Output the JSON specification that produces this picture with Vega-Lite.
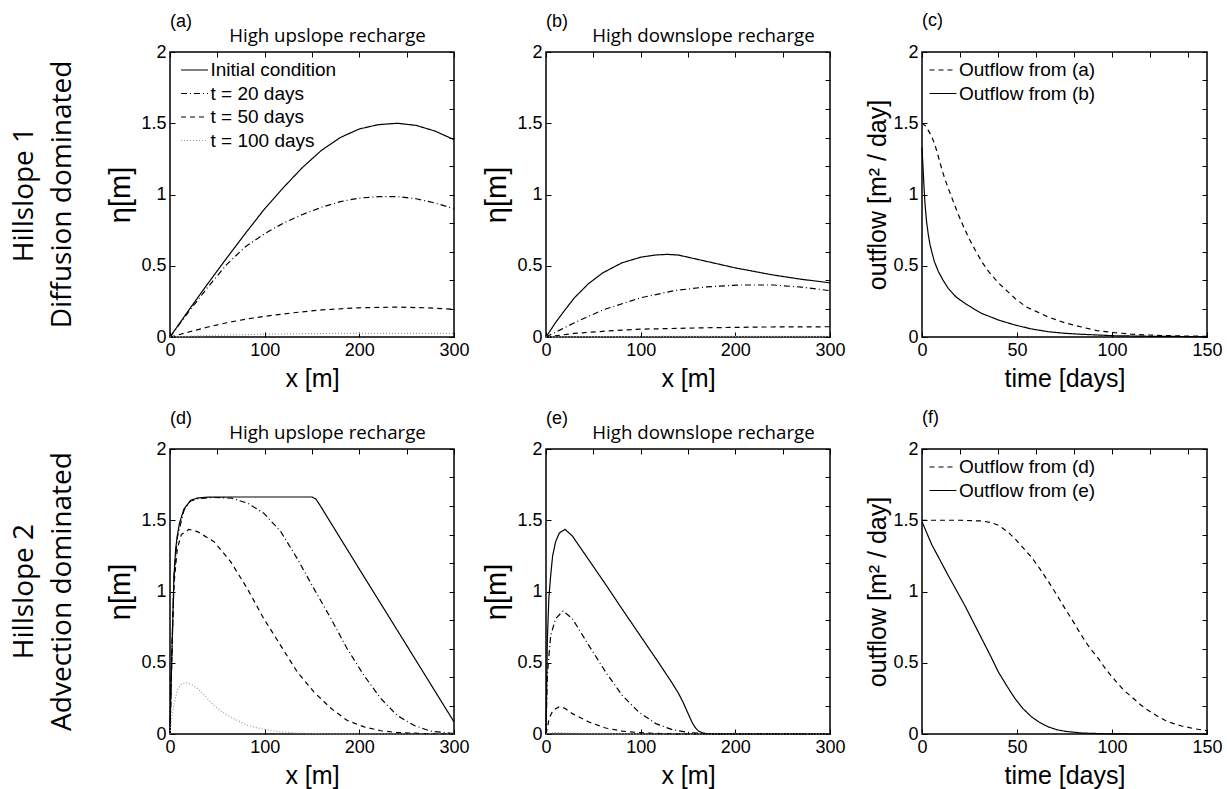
{
  "$schema": "https://vega.github.io/schema/vega-lite/v6.json",
  "background": "white",
  "padding": {"left": 5, "top": 11, "right": 6, "bottom": 4},
  "columns": 4,
  "spacing": {"row": 112, "column": 92},
  "bounds": "flush",
  "resolve": {
    "scale": {"x": "independent", "y": "independent", "color": "independent", "strokeDash": "independent"},
    "axis": {"x": "independent", "y": "independent"},
    "legend": {"color": "independent", "strokeDash": "independent"}
  },
  "config": {
    "font": "Liberation Sans",
    "view": {"stroke": "black", "strokeWidth": 1.5},
    "axis": {
      "domain": false, "grid": false, "ticks": true, "tickSize": -5, "tickColor": "black", "tickWidth": 1,
      "labelFont": "Liberation Sans", "labelFontSize": 18, "labelColor": "black", "labelPadding": 9, "labelFlush": false,
      "titleFont": "Liberation Sans", "titleFontSize": 25, "titleFontWeight": "normal", "titleColor": "black"
    },
    "axisX": {"titlePadding": 7},
    "axisY": {"titlePadding": 5},
    "title": {"font": "Liberation Sans", "fontSize": 18, "fontWeight": "normal", "anchor": "start", "frame": "group", "color": "black", "offset": -4},
    "legend": {
      "orient": "top-left", "offset": 0, "padding": 7,
      "labelFont": "Liberation Sans", "labelFontSize": 19, "labelColor": "black",
      "symbolType": "M-1.35,0L1.35,0", "symbolSize": 400, "symbolStrokeWidth": 1.2, "symbolOffset": 6.5, "labelOffset": 5, "rowPadding": 2.5
    }
  },
  "datasets": {
    "a": [
      {"s":"Initial condition","x":0,"y":0},{"s":"Initial condition","x":20,"y":0.19},{"s":"Initial condition","x":40,"y":0.375},{"s":"Initial condition","x":60,"y":0.555},{"s":"Initial condition","x":80,"y":0.73},{"s":"Initial condition","x":100,"y":0.9},{"s":"Initial condition","x":120,"y":1.05},{"s":"Initial condition","x":140,"y":1.19},{"s":"Initial condition","x":160,"y":1.31},{"s":"Initial condition","x":180,"y":1.4},{"s":"Initial condition","x":200,"y":1.46},{"s":"Initial condition","x":220,"y":1.49},{"s":"Initial condition","x":240,"y":1.5},{"s":"Initial condition","x":260,"y":1.485},{"s":"Initial condition","x":280,"y":1.445},{"s":"Initial condition","x":300,"y":1.385},
      {"s":"t = 20 days","x":0,"y":0},{"s":"t = 20 days","x":20,"y":0.18},{"s":"t = 20 days","x":40,"y":0.35},{"s":"t = 20 days","x":60,"y":0.51},{"s":"t = 20 days","x":80,"y":0.635},{"s":"t = 20 days","x":100,"y":0.725},{"s":"t = 20 days","x":120,"y":0.8},{"s":"t = 20 days","x":140,"y":0.86},{"s":"t = 20 days","x":160,"y":0.91},{"s":"t = 20 days","x":180,"y":0.95},{"s":"t = 20 days","x":200,"y":0.975},{"s":"t = 20 days","x":220,"y":0.985},{"s":"t = 20 days","x":240,"y":0.985},{"s":"t = 20 days","x":260,"y":0.97},{"s":"t = 20 days","x":280,"y":0.94},{"s":"t = 20 days","x":300,"y":0.9},
      {"s":"t = 50 days","x":0,"y":0},{"s":"t = 50 days","x":20,"y":0.035},{"s":"t = 50 days","x":40,"y":0.07},{"s":"t = 50 days","x":60,"y":0.1},{"s":"t = 50 days","x":80,"y":0.125},{"s":"t = 50 days","x":100,"y":0.145},{"s":"t = 50 days","x":130,"y":0.17},{"s":"t = 50 days","x":160,"y":0.19},{"s":"t = 50 days","x":200,"y":0.205},{"s":"t = 50 days","x":240,"y":0.21},{"s":"t = 50 days","x":270,"y":0.205},{"s":"t = 50 days","x":300,"y":0.195},
      {"s":"t = 100 days","x":0,"y":0},{"s":"t = 100 days","x":20,"y":0.005},{"s":"t = 100 days","x":50,"y":0.012},{"s":"t = 100 days","x":100,"y":0.02},{"s":"t = 100 days","x":150,"y":0.024},{"s":"t = 100 days","x":200,"y":0.026},{"s":"t = 100 days","x":250,"y":0.026},{"s":"t = 100 days","x":300,"y":0.025}
    ],
    "b": [
      {"s":"Initial condition","x":0,"y":0},{"s":"Initial condition","x":10,"y":0.1},{"s":"Initial condition","x":20,"y":0.19},{"s":"Initial condition","x":30,"y":0.275},{"s":"Initial condition","x":45,"y":0.375},{"s":"Initial condition","x":60,"y":0.45},{"s":"Initial condition","x":80,"y":0.52},{"s":"Initial condition","x":100,"y":0.56},{"s":"Initial condition","x":115,"y":0.575},{"s":"Initial condition","x":128,"y":0.58},{"s":"Initial condition","x":140,"y":0.575},{"s":"Initial condition","x":160,"y":0.545},{"s":"Initial condition","x":200,"y":0.485},{"s":"Initial condition","x":240,"y":0.435},{"s":"Initial condition","x":270,"y":0.405},{"s":"Initial condition","x":300,"y":0.38},
      {"s":"t = 20 days","x":0,"y":0},{"s":"t = 20 days","x":15,"y":0.05},{"s":"t = 20 days","x":30,"y":0.1},{"s":"t = 20 days","x":60,"y":0.19},{"s":"t = 20 days","x":100,"y":0.275},{"s":"t = 20 days","x":135,"y":0.325},{"s":"t = 20 days","x":170,"y":0.352},{"s":"t = 20 days","x":205,"y":0.365},{"s":"t = 20 days","x":240,"y":0.365},{"s":"t = 20 days","x":270,"y":0.35},{"s":"t = 20 days","x":300,"y":0.325},
      {"s":"t = 50 days","x":0,"y":0},{"s":"t = 50 days","x":30,"y":0.025},{"s":"t = 50 days","x":60,"y":0.04},{"s":"t = 50 days","x":100,"y":0.055},{"s":"t = 50 days","x":170,"y":0.065},{"s":"t = 50 days","x":230,"y":0.07},{"s":"t = 50 days","x":300,"y":0.072},
      {"s":"t = 100 days","x":0,"y":0},{"s":"t = 100 days","x":50,"y":0.003},{"s":"t = 100 days","x":150,"y":0.004},{"s":"t = 100 days","x":300,"y":0.004}
    ],
    "c": [
      {"s":"Outflow from (a)","x":0,"y":1.5},{"s":"Outflow from (a)","x":2,"y":1.48},{"s":"Outflow from (a)","x":3.3,"y":1.45},{"s":"Outflow from (a)","x":5,"y":1.41},{"s":"Outflow from (a)","x":6.8,"y":1.35},{"s":"Outflow from (a)","x":8.5,"y":1.27},{"s":"Outflow from (a)","x":10.4,"y":1.18},{"s":"Outflow from (a)","x":12,"y":1.11},{"s":"Outflow from (a)","x":13.9,"y":1.04},{"s":"Outflow from (a)","x":16.5,"y":0.95},{"s":"Outflow from (a)","x":19.1,"y":0.86},{"s":"Outflow from (a)","x":22,"y":0.77},{"s":"Outflow from (a)","x":24.4,"y":0.7},{"s":"Outflow from (a)","x":28,"y":0.61},{"s":"Outflow from (a)","x":31.4,"y":0.53},{"s":"Outflow from (a)","x":35,"y":0.46},{"s":"Outflow from (a)","x":40.2,"y":0.38},{"s":"Outflow from (a)","x":45,"y":0.32},{"s":"Outflow from (a)","x":49,"y":0.27},{"s":"Outflow from (a)","x":55,"y":0.21},{"s":"Outflow from (a)","x":60,"y":0.18},{"s":"Outflow from (a)","x":66.5,"y":0.14},{"s":"Outflow from (a)","x":75,"y":0.1},{"s":"Outflow from (a)","x":84,"y":0.07},{"s":"Outflow from (a)","x":92,"y":0.045},{"s":"Outflow from (a)","x":101.6,"y":0.03},{"s":"Outflow from (a)","x":110,"y":0.02},{"s":"Outflow from (a)","x":119,"y":0.014},{"s":"Outflow from (a)","x":130,"y":0.009},{"s":"Outflow from (a)","x":140,"y":0.006},{"s":"Outflow from (a)","x":150,"y":0.005},
      {"s":"Outflow from (b)","x":0,"y":1.33},{"s":"Outflow from (b)","x":0.5,"y":1.2},{"s":"Outflow from (b)","x":1,"y":1.07},{"s":"Outflow from (b)","x":1.6,"y":0.93},{"s":"Outflow from (b)","x":2.4,"y":0.81},{"s":"Outflow from (b)","x":3.3,"y":0.72},{"s":"Outflow from (b)","x":4.2,"y":0.65},{"s":"Outflow from (b)","x":5.1,"y":0.6},{"s":"Outflow from (b)","x":6.5,"y":0.53},{"s":"Outflow from (b)","x":8.6,"y":0.46},{"s":"Outflow from (b)","x":11,"y":0.4},{"s":"Outflow from (b)","x":13.9,"y":0.34},{"s":"Outflow from (b)","x":18,"y":0.28},{"s":"Outflow from (b)","x":22.6,"y":0.236},{"s":"Outflow from (b)","x":27,"y":0.2},{"s":"Outflow from (b)","x":31.4,"y":0.166},{"s":"Outflow from (b)","x":40,"y":0.12},{"s":"Outflow from (b)","x":49,"y":0.084},{"s":"Outflow from (b)","x":57,"y":0.058},{"s":"Outflow from (b)","x":66.5,"y":0.037},{"s":"Outflow from (b)","x":75,"y":0.026},{"s":"Outflow from (b)","x":84,"y":0.019},{"s":"Outflow from (b)","x":101,"y":0.009},{"s":"Outflow from (b)","x":120,"y":0.005},{"s":"Outflow from (b)","x":150,"y":0.002}
    ],
    "d": [
      {"s":"Initial condition","x":0,"y":0},{"s":"Initial condition","x":1,"y":0.3},{"s":"Initial condition","x":2.5,"y":0.7},{"s":"Initial condition","x":4.2,"y":1.11},{"s":"Initial condition","x":6,"y":1.3},{"s":"Initial condition","x":7.7,"y":1.39},{"s":"Initial condition","x":10,"y":1.48},{"s":"Initial condition","x":14.8,"y":1.58},{"s":"Initial condition","x":21.8,"y":1.64},{"s":"Initial condition","x":29,"y":1.656},{"s":"Initial condition","x":40,"y":1.662},{"s":"Initial condition","x":60,"y":1.663},{"s":"Initial condition","x":100,"y":1.663},{"s":"Initial condition","x":150,"y":1.663},{"s":"Initial condition","x":154,"y":1.65},{"s":"Initial condition","x":158,"y":1.61},{"s":"Initial condition","x":200,"y":1.157},{"s":"Initial condition","x":250,"y":0.622},{"s":"Initial condition","x":300,"y":0.085},
      {"s":"t = 20 days","x":0,"y":0},{"s":"t = 20 days","x":1,"y":0.3},{"s":"t = 20 days","x":2.5,"y":0.7},{"s":"t = 20 days","x":4.2,"y":1.1},{"s":"t = 20 days","x":7.7,"y":1.38},{"s":"t = 20 days","x":14.8,"y":1.57},{"s":"t = 20 days","x":21.8,"y":1.635},{"s":"t = 20 days","x":29,"y":1.65},{"s":"t = 20 days","x":45,"y":1.66},{"s":"t = 20 days","x":65,"y":1.655},{"s":"t = 20 days","x":82,"y":1.62},{"s":"t = 20 days","x":99,"y":1.55},{"s":"t = 20 days","x":117,"y":1.42},{"s":"t = 20 days","x":134.5,"y":1.23},{"s":"t = 20 days","x":152,"y":1.02},{"s":"t = 20 days","x":170,"y":0.81},{"s":"t = 20 days","x":187,"y":0.6},{"s":"t = 20 days","x":205,"y":0.41},{"s":"t = 20 days","x":222.5,"y":0.25},{"s":"t = 20 days","x":240,"y":0.13},{"s":"t = 20 days","x":258,"y":0.06},{"s":"t = 20 days","x":275,"y":0.02},{"s":"t = 20 days","x":300,"y":0.003},
      {"s":"t = 50 days","x":0,"y":0},{"s":"t = 50 days","x":1,"y":0.3},{"s":"t = 50 days","x":2.5,"y":0.68},{"s":"t = 50 days","x":4.2,"y":1.05},{"s":"t = 50 days","x":7.7,"y":1.3},{"s":"t = 50 days","x":12,"y":1.4},{"s":"t = 50 days","x":20,"y":1.436},{"s":"t = 50 days","x":29,"y":1.42},{"s":"t = 50 days","x":46.5,"y":1.35},{"s":"t = 50 days","x":64,"y":1.21},{"s":"t = 50 days","x":81.7,"y":1.02},{"s":"t = 50 days","x":99,"y":0.81},{"s":"t = 50 days","x":117,"y":0.62},{"s":"t = 50 days","x":134.5,"y":0.435},{"s":"t = 50 days","x":152,"y":0.295},{"s":"t = 50 days","x":170,"y":0.18},{"s":"t = 50 days","x":187,"y":0.096},{"s":"t = 50 days","x":205,"y":0.05},{"s":"t = 50 days","x":222.5,"y":0.023},{"s":"t = 50 days","x":240,"y":0.01},{"s":"t = 50 days","x":270,"y":0.003},{"s":"t = 50 days","x":300,"y":0},
      {"s":"t = 100 days","x":0,"y":0},{"s":"t = 100 days","x":2,"y":0.12},{"s":"t = 100 days","x":4,"y":0.2},{"s":"t = 100 days","x":7.7,"y":0.31},{"s":"t = 100 days","x":12,"y":0.35},{"s":"t = 100 days","x":16.5,"y":0.36},{"s":"t = 100 days","x":22,"y":0.35},{"s":"t = 100 days","x":29,"y":0.32},{"s":"t = 100 days","x":38,"y":0.26},{"s":"t = 100 days","x":46.5,"y":0.2},{"s":"t = 100 days","x":55,"y":0.155},{"s":"t = 100 days","x":64,"y":0.12},{"s":"t = 100 days","x":82,"y":0.06},{"s":"t = 100 days","x":99,"y":0.033},{"s":"t = 100 days","x":117,"y":0.015},{"s":"t = 100 days","x":134,"y":0.007},{"s":"t = 100 days","x":160,"y":0.002},{"s":"t = 100 days","x":200,"y":0},{"s":"t = 100 days","x":300,"y":0}
    ],
    "e": [
      {"s":"Initial condition","x":0,"y":0},{"s":"Initial condition","x":0.7,"y":0.3},{"s":"Initial condition","x":1.4,"y":0.65},{"s":"Initial condition","x":3,"y":0.95},{"s":"Initial condition","x":4.9,"y":1.11},{"s":"Initial condition","x":7,"y":1.25},{"s":"Initial condition","x":10.2,"y":1.35},{"s":"Initial condition","x":14,"y":1.41},{"s":"Initial condition","x":20,"y":1.436},{"s":"Initial condition","x":27.8,"y":1.39},{"s":"Initial condition","x":45.4,"y":1.22},{"s":"Initial condition","x":63,"y":1.05},{"s":"Initial condition","x":80.6,"y":0.875},{"s":"Initial condition","x":98,"y":0.705},{"s":"Initial condition","x":116,"y":0.53},{"s":"Initial condition","x":133.5,"y":0.355},{"s":"Initial condition","x":140,"y":0.285},{"s":"Initial condition","x":145,"y":0.22},{"s":"Initial condition","x":149,"y":0.16},{"s":"Initial condition","x":152,"y":0.115},{"s":"Initial condition","x":155,"y":0.073},{"s":"Initial condition","x":158,"y":0.042},{"s":"Initial condition","x":161,"y":0.021},{"s":"Initial condition","x":165,"y":0.008},{"s":"Initial condition","x":170,"y":0.003},{"s":"Initial condition","x":180,"y":0.001},{"s":"Initial condition","x":200,"y":0},{"s":"Initial condition","x":300,"y":0},
      {"s":"t = 20 days","x":0,"y":0},{"s":"t = 20 days","x":1.4,"y":0.41},{"s":"t = 20 days","x":4.9,"y":0.69},{"s":"t = 20 days","x":10.2,"y":0.81},{"s":"t = 20 days","x":18,"y":0.863},{"s":"t = 20 days","x":27.8,"y":0.81},{"s":"t = 20 days","x":45.4,"y":0.62},{"s":"t = 20 days","x":63,"y":0.435},{"s":"t = 20 days","x":80.6,"y":0.27},{"s":"t = 20 days","x":98,"y":0.154},{"s":"t = 20 days","x":116,"y":0.073},{"s":"t = 20 days","x":133.5,"y":0.03},{"s":"t = 20 days","x":151,"y":0.01},{"s":"t = 20 days","x":170,"y":0.002},{"s":"t = 20 days","x":200,"y":0},{"s":"t = 20 days","x":300,"y":0},
      {"s":"t = 50 days","x":0,"y":0},{"s":"t = 50 days","x":2,"y":0.06},{"s":"t = 50 days","x":3.2,"y":0.107},{"s":"t = 50 days","x":7.4,"y":0.166},{"s":"t = 50 days","x":13.7,"y":0.19},{"s":"t = 50 days","x":20,"y":0.18},{"s":"t = 50 days","x":27.8,"y":0.143},{"s":"t = 50 days","x":45.4,"y":0.084},{"s":"t = 50 days","x":63,"y":0.042},{"s":"t = 50 days","x":80.6,"y":0.02},{"s":"t = 50 days","x":98,"y":0.01},{"s":"t = 50 days","x":116,"y":0.004},{"s":"t = 50 days","x":140,"y":0.001},{"s":"t = 50 days","x":300,"y":0},
      {"s":"t = 100 days","x":0,"y":0},{"s":"t = 100 days","x":5,"y":0.008},{"s":"t = 100 days","x":12,"y":0.01},{"s":"t = 100 days","x":30,"y":0.006},{"s":"t = 100 days","x":60,"y":0.002},{"s":"t = 100 days","x":100,"y":0},{"s":"t = 100 days","x":300,"y":0}
    ],
    "f": [
      {"s":"Outflow from (d)","x":0,"y":1.5},{"s":"Outflow from (d)","x":10,"y":1.5},{"s":"Outflow from (d)","x":20,"y":1.5},{"s":"Outflow from (d)","x":31.4,"y":1.495},{"s":"Outflow from (d)","x":36,"y":1.485},{"s":"Outflow from (d)","x":40.2,"y":1.465},{"s":"Outflow from (d)","x":45,"y":1.42},{"s":"Outflow from (d)","x":49,"y":1.37},{"s":"Outflow from (d)","x":53,"y":1.31},{"s":"Outflow from (d)","x":57.7,"y":1.24},{"s":"Outflow from (d)","x":62,"y":1.16},{"s":"Outflow from (d)","x":66.5,"y":1.07},{"s":"Outflow from (d)","x":71,"y":0.975},{"s":"Outflow from (d)","x":75.3,"y":0.88},{"s":"Outflow from (d)","x":80,"y":0.78},{"s":"Outflow from (d)","x":84,"y":0.69},{"s":"Outflow from (d)","x":88,"y":0.61},{"s":"Outflow from (d)","x":92.8,"y":0.53},{"s":"Outflow from (d)","x":97,"y":0.45},{"s":"Outflow from (d)","x":101.6,"y":0.377},{"s":"Outflow from (d)","x":106,"y":0.31},{"s":"Outflow from (d)","x":110.4,"y":0.26},{"s":"Outflow from (d)","x":115,"y":0.205},{"s":"Outflow from (d)","x":119,"y":0.166},{"s":"Outflow from (d)","x":124,"y":0.125},{"s":"Outflow from (d)","x":127.9,"y":0.096},{"s":"Outflow from (d)","x":132,"y":0.075},{"s":"Outflow from (d)","x":136.7,"y":0.056},{"s":"Outflow from (d)","x":143,"y":0.038},{"s":"Outflow from (d)","x":150,"y":0.023},
      {"s":"Outflow from (e)","x":0,"y":1.49},{"s":"Outflow from (e)","x":5.1,"y":1.33},{"s":"Outflow from (e)","x":13.9,"y":1.11},{"s":"Outflow from (e)","x":22.6,"y":0.9},{"s":"Outflow from (e)","x":31.4,"y":0.67},{"s":"Outflow from (e)","x":36,"y":0.55},{"s":"Outflow from (e)","x":40.2,"y":0.435},{"s":"Outflow from (e)","x":45,"y":0.33},{"s":"Outflow from (e)","x":49,"y":0.248},{"s":"Outflow from (e)","x":53,"y":0.18},{"s":"Outflow from (e)","x":57.7,"y":0.12},{"s":"Outflow from (e)","x":62,"y":0.08},{"s":"Outflow from (e)","x":66.5,"y":0.05},{"s":"Outflow from (e)","x":71,"y":0.03},{"s":"Outflow from (e)","x":75.3,"y":0.019},{"s":"Outflow from (e)","x":84,"y":0.007},{"s":"Outflow from (e)","x":95,"y":0.002},{"s":"Outflow from (e)","x":110,"y":0},{"s":"Outflow from (e)","x":150,"y":0}
    ]
  },
  "concat": [
    {
      "width": 73, "height": 285,
      "data": {"values": [{"label": "Hillslope 1\nDiffusion dominated"}]},
      "mark": {"type": "text", "angle": 270, "font": "Open Sans", "fontSize": 28, "lineBreak": "\n", "lineHeight": 38, "align": "center", "baseline": "middle", "dy": -17, "color": "black"},
      "encoding": {"text": {"field": "label"}},
      "view": {"stroke": null}
    },
    {
      "width": 284, "height": 285,
      "data": {"name": "a"},
      "title": {"text": "(a)"},
      "layer": [
        {
          "mark": {"type": "line", "strokeWidth": 1.2},
          "encoding": {
            "x": {"field": "x", "type": "quantitative", "scale": {"domain": [0, 300], "nice": false}, "axis": {"title": "x [m]", "values": [0, 100, 200, 300]}},
            "y": {"field": "y", "type": "quantitative", "scale": {"domain": [0, 2], "nice": false}, "axis": {"title": "η[m]", "titleFontSize": 29, "values": [0, 0.5, 1, 1.5, 2], "format": "~g"}},
            "color": {"field": "s", "type": "nominal", "scale": {"domain": ["Initial condition", "t = 20 days", "t = 50 days", "t = 100 days"], "range": ["#000000", "#000000", "#000000", "#9a9a9a"]}, "legend": {"title": null}},
            "strokeDash": {"field": "s", "type": "nominal", "scale": {"domain": ["Initial condition", "t = 20 days", "t = 50 days", "t = 100 days"], "range": [[1, 0], [6, 3, 1, 3], [5, 4], [1, 2]]}, "legend": {"title": null}}
          }
        },
        {
          "mark": {"type": "line", "opacity": 0},
          "encoding": {
            "x": {"field": "x", "type": "quantitative", "axis": {"orient": "top", "labels": false, "title": "High upslope recharge", "titleFont": "Open Sans", "titleFontSize": 18.7, "titlePadding": 6, "titleX": 157}},
            "y": {"field": "y", "type": "quantitative", "axis": {"orient": "right", "labels": false, "title": null}},
            "detail": {"field": "s"}
          }
        }
      ],
      "resolve": {"axis": {"x": "independent", "y": "independent"}}
    },
    {
      "width": 284, "height": 285,
      "data": {"name": "b"},
      "title": {"text": "(b)"},
      "layer": [
        {
          "mark": {"type": "line", "strokeWidth": 1.2},
          "encoding": {
            "x": {"field": "x", "type": "quantitative", "scale": {"domain": [0, 300], "nice": false}, "axis": {"title": "x [m]", "values": [0, 100, 200, 300]}},
            "y": {"field": "y", "type": "quantitative", "scale": {"domain": [0, 2], "nice": false}, "axis": {"title": "η[m]", "titleFontSize": 29, "values": [0, 0.5, 1, 1.5, 2], "format": "~g"}},
            "color": {"field": "s", "type": "nominal", "scale": {"domain": ["Initial condition", "t = 20 days", "t = 50 days", "t = 100 days"], "range": ["#000000", "#000000", "#000000", "#9a9a9a"]}, "legend": null},
            "strokeDash": {"field": "s", "type": "nominal", "scale": {"domain": ["Initial condition", "t = 20 days", "t = 50 days", "t = 100 days"], "range": [[1, 0], [6, 3, 1, 3], [5, 4], [1, 2]]}, "legend": null}
          }
        },
        {
          "mark": {"type": "line", "opacity": 0},
          "encoding": {
            "x": {"field": "x", "type": "quantitative", "axis": {"orient": "top", "labels": false, "title": "High downslope recharge", "titleFont": "Open Sans", "titleFontSize": 18.7, "titlePadding": 6, "titleX": 157}},
            "y": {"field": "y", "type": "quantitative", "axis": {"orient": "right", "labels": false, "title": null}},
            "detail": {"field": "s"}
          }
        }
      ],
      "resolve": {"axis": {"x": "independent", "y": "independent"}}
    },
    {
      "width": 285, "height": 285,
      "data": {"name": "c"},
      "title": {"text": "(c)", "offset": 13},
      "layer": [
        {
          "mark": {"type": "line", "strokeWidth": 1.2},
          "encoding": {
            "x": {"field": "x", "type": "quantitative", "scale": {"domain": [0, 150], "nice": false}, "axis": {"title": "time [days]", "values": [0, 50, 100, 150]}},
            "y": {"field": "y", "type": "quantitative", "scale": {"domain": [0, 2], "nice": false}, "axis": {"title": "outflow [m² / day]", "values": [0, 0.5, 1, 1.5, 2], "format": "~g", "titlePadding": 2}},
            "color": {"field": "s", "type": "nominal", "scale": {"domain": ["Outflow from (a)", "Outflow from (b)"], "range": ["#000000", "#000000"]}, "legend": {"title": null, "symbolOffset": 3}},
            "strokeDash": {"field": "s", "type": "nominal", "scale": {"domain": ["Outflow from (a)", "Outflow from (b)"], "range": [[5, 4], [1, 0]]}, "legend": {"title": null, "symbolOffset": 3}}
          }
        },
        {
          "mark": {"type": "line", "opacity": 0},
          "encoding": {
            "x": {"field": "x", "type": "quantitative", "axis": {"orient": "top", "labels": false, "title": null}},
            "y": {"field": "y", "type": "quantitative", "axis": {"orient": "right", "labels": false, "title": null}},
            "detail": {"field": "s"}
          }
        }
      ],
      "resolve": {"axis": {"x": "independent", "y": "independent"}}
    },
    {
      "width": 73, "height": 285,
      "data": {"values": [{"label": "Hillslope 2\nAdvection dominated"}]},
      "mark": {"type": "text", "angle": 270, "font": "Open Sans", "fontSize": 28, "lineBreak": "\n", "lineHeight": 38, "align": "center", "baseline": "middle", "dy": -17, "color": "black"},
      "encoding": {"text": {"field": "label"}},
      "view": {"stroke": null}
    },
    {
      "width": 284, "height": 285,
      "data": {"name": "d"},
      "title": {"text": "(d)"},
      "layer": [
        {
          "mark": {"type": "line", "strokeWidth": 1.2},
          "encoding": {
            "x": {"field": "x", "type": "quantitative", "scale": {"domain": [0, 300], "nice": false}, "axis": {"title": "x [m]", "values": [0, 100, 200, 300]}},
            "y": {"field": "y", "type": "quantitative", "scale": {"domain": [0, 2], "nice": false}, "axis": {"title": "η[m]", "titleFontSize": 29, "values": [0, 0.5, 1, 1.5, 2], "format": "~g"}},
            "color": {"field": "s", "type": "nominal", "scale": {"domain": ["Initial condition", "t = 20 days", "t = 50 days", "t = 100 days"], "range": ["#000000", "#000000", "#000000", "#9a9a9a"]}, "legend": null},
            "strokeDash": {"field": "s", "type": "nominal", "scale": {"domain": ["Initial condition", "t = 20 days", "t = 50 days", "t = 100 days"], "range": [[1, 0], [6, 3, 1, 3], [5, 4], [1, 2]]}, "legend": null}
          }
        },
        {
          "mark": {"type": "line", "opacity": 0},
          "encoding": {
            "x": {"field": "x", "type": "quantitative", "axis": {"orient": "top", "labels": false, "title": "High upslope recharge", "titleFont": "Open Sans", "titleFontSize": 18.7, "titlePadding": 6, "titleX": 157}},
            "y": {"field": "y", "type": "quantitative", "axis": {"orient": "right", "labels": false, "title": null}},
            "detail": {"field": "s"}
          }
        }
      ],
      "resolve": {"axis": {"x": "independent", "y": "independent"}}
    },
    {
      "width": 284, "height": 285,
      "data": {"name": "e"},
      "title": {"text": "(e)"},
      "layer": [
        {
          "mark": {"type": "line", "strokeWidth": 1.2},
          "encoding": {
            "x": {"field": "x", "type": "quantitative", "scale": {"domain": [0, 300], "nice": false}, "axis": {"title": "x [m]", "values": [0, 100, 200, 300]}},
            "y": {"field": "y", "type": "quantitative", "scale": {"domain": [0, 2], "nice": false}, "axis": {"title": "η[m]", "titleFontSize": 29, "values": [0, 0.5, 1, 1.5, 2], "format": "~g"}},
            "color": {"field": "s", "type": "nominal", "scale": {"domain": ["Initial condition", "t = 20 days", "t = 50 days", "t = 100 days"], "range": ["#000000", "#000000", "#000000", "#9a9a9a"]}, "legend": null},
            "strokeDash": {"field": "s", "type": "nominal", "scale": {"domain": ["Initial condition", "t = 20 days", "t = 50 days", "t = 100 days"], "range": [[1, 0], [6, 3, 1, 3], [5, 4], [1, 2]]}, "legend": null}
          }
        },
        {
          "mark": {"type": "line", "opacity": 0},
          "encoding": {
            "x": {"field": "x", "type": "quantitative", "axis": {"orient": "top", "labels": false, "title": "High downslope recharge", "titleFont": "Open Sans", "titleFontSize": 18.7, "titlePadding": 6, "titleX": 157}},
            "y": {"field": "y", "type": "quantitative", "axis": {"orient": "right", "labels": false, "title": null}},
            "detail": {"field": "s"}
          }
        }
      ],
      "resolve": {"axis": {"x": "independent", "y": "independent"}}
    },
    {
      "width": 285, "height": 285,
      "data": {"name": "f"},
      "title": {"text": "(f)", "offset": 13},
      "layer": [
        {
          "mark": {"type": "line", "strokeWidth": 1.2},
          "encoding": {
            "x": {"field": "x", "type": "quantitative", "scale": {"domain": [0, 150], "nice": false}, "axis": {"title": "time [days]", "values": [0, 50, 100, 150]}},
            "y": {"field": "y", "type": "quantitative", "scale": {"domain": [0, 2], "nice": false}, "axis": {"title": "outflow [m² / day]", "values": [0, 0.5, 1, 1.5, 2], "format": "~g", "titlePadding": 2}},
            "color": {"field": "s", "type": "nominal", "scale": {"domain": ["Outflow from (d)", "Outflow from (e)"], "range": ["#000000", "#000000"]}, "legend": {"title": null, "symbolOffset": 3}},
            "strokeDash": {"field": "s", "type": "nominal", "scale": {"domain": ["Outflow from (d)", "Outflow from (e)"], "range": [[5, 4], [1, 0]]}, "legend": {"title": null, "symbolOffset": 3}}
          }
        },
        {
          "mark": {"type": "line", "opacity": 0},
          "encoding": {
            "x": {"field": "x", "type": "quantitative", "axis": {"orient": "top", "labels": false, "title": null}},
            "y": {"field": "y", "type": "quantitative", "axis": {"orient": "right", "labels": false, "title": null}},
            "detail": {"field": "s"}
          }
        }
      ],
      "resolve": {"axis": {"x": "independent", "y": "independent"}}
    }
  ]
}
